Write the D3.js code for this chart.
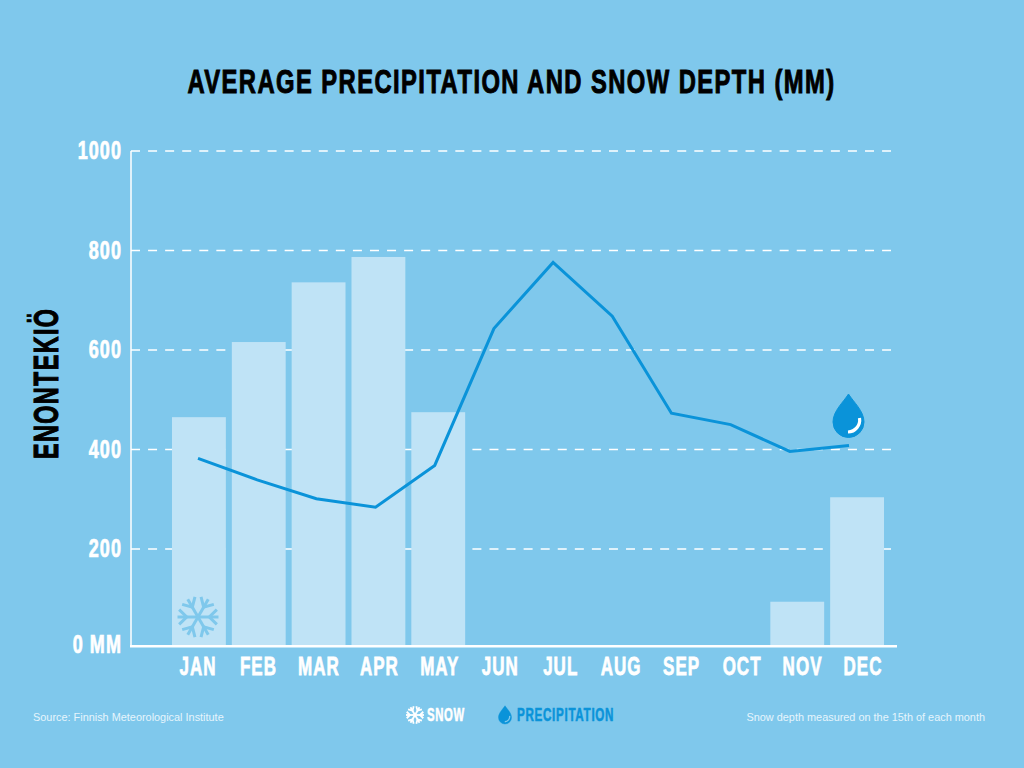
<!DOCTYPE html>
<html lang="en">
<head>
<meta charset="utf-8">
<script src="https://d3js.org/d3.v7.min.js"></script>
<title>Average precipitation and snow depth</title>
<style>
  html, body { margin: 0; background: #7fc8ec; }
  svg { display: block; }
  .cond { font-family: "Liberation Sans", Arial, sans-serif; font-weight: 700; }
</style>
</head>
<body>
<div id="chart"></div>
<script>
const months = ["JAN", "FEB", "MAR", "APR", "MAY", "JUN", "JUL", "AUG", "SEP", "OCT", "NOV", "DEC"];
const snow = [465, 616, 736, 787, 475, 0, 0, 0, 0, 0, 94, 304];
const precipitation = [382, 339, 301, 284, 368, 643, 776, 668, 473, 450, 396, 408];
const yTicks = [0, 200, 400, 600, 800, 1000];

const width = 1024, height = 768;
const white = "#ffffff", blue = "#0a93d9", barFill = "#bfe3f6", bg = "#7fc8ec";

const svg = d3.select("#chart").append("svg")
  .attr("width", width)
  .attr("height", height);

svg.append("rect").attr("width", width).attr("height", height).attr("fill", bg);

// scales: bars, line and labels sit slightly apart in the original
const xBar = d3.scaleBand().domain(months).range([169, 887]).paddingInner(0.1).paddingOuter(0.05);
const xLine = d3.scalePoint().domain(months).range([198, 849]);
const xLabel = d3.scalePoint().domain(months).range([198, 863]);
const y = d3.scaleLinear().domain([0, 1000]).range([648.5, 151]);
const baseY = 646.3; // drawn baseline stops a little short of the grid's zero

// narrow display face: squeeze a bold sans horizontally
function narrow(text, x, yPos, size, sx, color, anchor, rotate) {
  const t = (rotate ? `translate(${x},${yPos}) rotate(-90)` : `translate(${x},${yPos})`) + ` scale(${sx},1)`;
  return svg.append("text")
    .attr("class", "cond")
    .attr("transform", t)
    .attr("text-anchor", anchor)
    .attr("font-size", size)
    .attr("letter-spacing", size * 0.06)
    .attr("fill", color)
    .attr("stroke", color)
    .attr("stroke-width", size * 0.03)
    .text(text);
}

// grid
svg.append("g").selectAll("line")
  .data(yTicks.filter(d => d > 0))
  .join("line")
  .attr("x1", 131).attr("x2", 891)
  .attr("y1", d => y(d)).attr("y2", d => y(d))
  .attr("stroke", white).attr("stroke-width", 1.5)
  .attr("stroke-dasharray", "9 8.07");

// bars
svg.append("g").selectAll("rect")
  .data(months)
  .join("rect")
  .attr("x", d => xBar(d))
  .attr("width", xBar.bandwidth())
  .attr("y", (d, i) => Math.min(y(snow[i]), baseY))
  .attr("height", (d, i) => Math.max(baseY - y(snow[i]), 0))
  .attr("fill", barFill);

// axis lines
svg.append("line").attr("x1", 131).attr("x2", 131).attr("y1", y(1000)).attr("y2", baseY)
  .attr("stroke", white).attr("stroke-width", 1.5);
svg.append("line").attr("x1", 130).attr("x2", 897).attr("y1", baseY).attr("y2", baseY)
  .attr("stroke", white).attr("stroke-width", 2.5);

// precipitation line
const line = d3.line().x((d, i) => xLine(months[i])).y(d => y(d));
svg.append("path")
  .attr("d", line(precipitation))
  .attr("fill", "none")
  .attr("stroke", blue)
  .attr("stroke-width", 3);

// tick labels
yTicks.forEach(d => {
  narrow(d === 0 ? "0 MM" : String(d), 122, d === 0 ? baseY + 7 : y(d) + 8, 25, 0.72, white, "end");
});
months.forEach(m => {
  narrow(m, xLabel(m), 675, 25, 0.68, white, "middle");
});

// titles
narrow("AVERAGE PRECIPITATION AND SNOW DEPTH (MM)", 511.5, 92.5, 33.5, 0.71, "#000", "middle");
narrow("ENONTEKIÖ", 58, 459, 35, 0.667, "#000", "start", true);

// icons
function snowflake(g, r, color, sw) {
  d3.range(6).forEach(i => {
    const arm = g.append("g").attr("transform", `rotate(${i * 60 + 30})`)
      .attr("stroke", color).attr("stroke-width", sw).attr("fill", "none");
    arm.append("path").attr("d", `M0,0V${-r}`);
    arm.append("path").attr("d", `M${-r * 0.36},${-r * 0.92}L0,${-r * 0.55}L${r * 0.36},${-r * 0.92}`);
  });
}
function drop(g, s, color, shine) {
  g.append("path")
    .attr("d", `M0,${-22 * s}C${5 * s},${-14 * s} ${15.5 * s},${-5 * s} ${15.5 * s},${6 * s}A${15.5 * s},${15.5 * s} 0 0 1 ${-15.5 * s},${6 * s}C${-15.5 * s},${-5 * s} ${-5 * s},${-14 * s} 0,${-22 * s}Z`)
    .attr("fill", color)
    .attr("stroke", color)
    .attr("stroke-linejoin", "round")
    .attr("stroke-width", 1 * s);
  g.append("path")
    .attr("d", `M${11 * s},${2 * s}A${12 * s},${12 * s} 0 0 1 ${-0.5 * s},${16 * s}`)
    .attr("fill", "none")
    .attr("stroke", shine)
    .attr("stroke-width", 3.2 * s);
}

snowflake(svg.append("g").attr("transform", "translate(198,617)"), 20.5, bg, 3);
drop(svg.append("g").attr("transform", "translate(848.5,416)"), 1, blue, white);

// legend
snowflake(svg.append("g").attr("transform", "translate(415,715)"), 9, white, 1.8);
narrow("SNOW", 427, 721, 18, 0.63, white, "start");
drop(svg.append("g").attr("transform", "translate(505,715)"), 0.42, blue, bg);
narrow("PRECIPITATION", 517, 721, 18, 0.647, blue, "start");

// notes
const noteFont = '"Liberation Sans", Arial, sans-serif';
svg.append("text")
  .attr("x", 33).attr("y", 721)
  .attr("font-family", noteFont).attr("font-size", 10.9).attr("fill", "#e6f5fc")
  .text("Source: Finnish Meteorological Institute");
svg.append("text")
  .attr("x", 985).attr("y", 721).attr("text-anchor", "end")
  .attr("font-family", noteFont).attr("font-size", 10.9).attr("fill", "#e6f5fc")
  .text("Snow depth measured on the 15th of each month");
</script>
</body>
</html>
